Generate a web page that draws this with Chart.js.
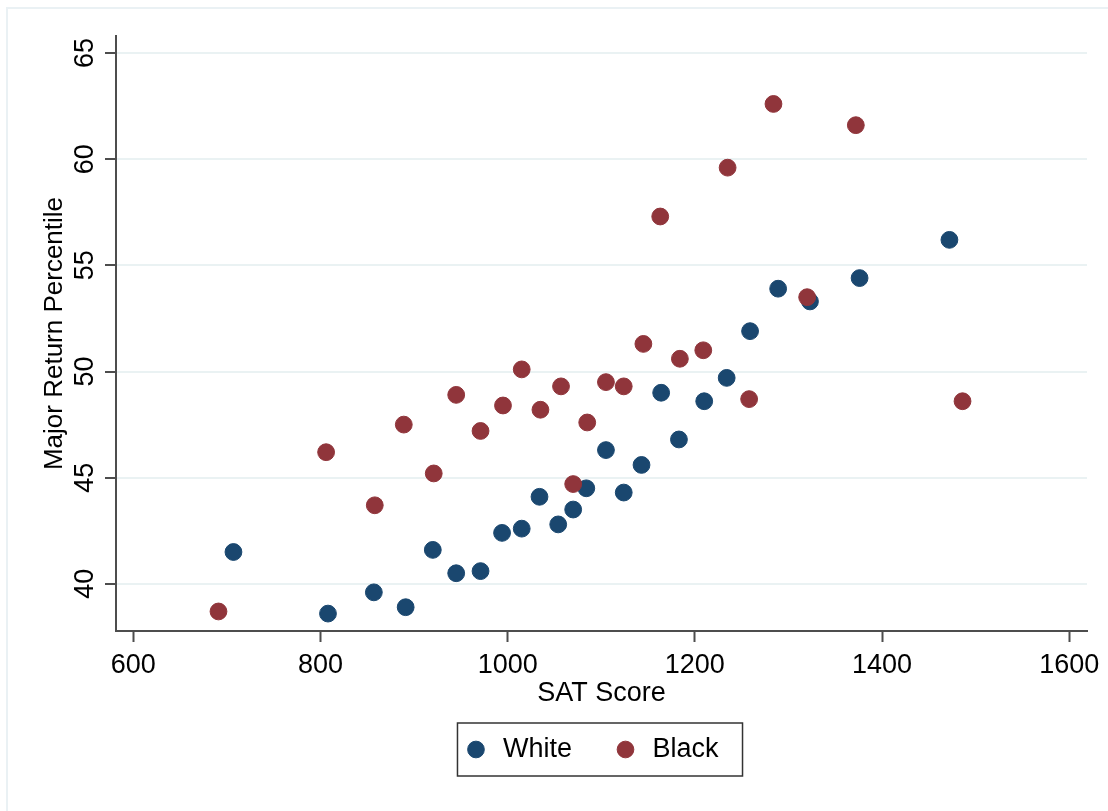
<!DOCTYPE html>
<html>
<head>
<meta charset="utf-8">
<script src="https://cdn.jsdelivr.net/npm/chart.js@4/dist/chart.umd.min.js"></script>
<style>
html,body{margin:0;padding:0;background:#fff;overflow:hidden;}
#frame{position:absolute;left:6px;top:7px;width:1200px;height:900px;border-left:2px solid #eaf1f4;border-top:2px solid #eaf1f4;}
#wrap{position:absolute;left:0;top:0;width:1108px;height:811px;}
</style>
</head>
<body>
<div id="frame"></div>
<div id="wrap"><canvas id="grafico"></canvas></div>
<script>
// SAT score vs major return percentile
const whiteSat = [707, 808, 857, 891, 920, 945, 971, 994, 1015, 1034, 1054, 1070, 1084, 1105, 1124, 1143, 1164, 1183, 1210, 1234, 1259, 1289, 1323, 1376, 1472];
const whitePct = [41.5, 38.6, 39.6, 38.9, 41.6, 40.5, 40.6, 42.4, 42.6, 44.1, 42.8, 43.5, 44.5, 46.3, 44.3, 45.6, 49.0, 46.8, 48.6, 49.7, 51.9, 53.9, 53.3, 54.4, 56.2];

const blackSat = [691, 806, 858, 889, 921, 945, 971, 995, 1015, 1035, 1057, 1070, 1085, 1105, 1124, 1145, 1163, 1184, 1209, 1235, 1258, 1284, 1320, 1372, 1486];
const blackPct = [38.7, 46.2, 43.7, 47.5, 45.2, 48.9, 47.2, 48.4, 50.1, 48.2, 49.3, 44.7, 47.6, 49.5, 49.3, 51.3, 57.3, 50.6, 51.0, 59.6, 48.7, 62.6, 53.5, 61.6, 48.6];

const xTicks = [600, 800, 1000, 1200, 1400, 1600];
const yTicks = [40, 45, 50, 55, 60, 65];

const fonte = {family: "'Liberation Sans', Arial, sans-serif", size: 27};
const escuro = "#4d4d4d";

// caixa em volta da legenda
const caixaLegenda = {
  id: "caixaLegenda",
  afterDraw(chart) {
    const hb = chart.legend && chart.legend.legendHitBoxes;
    if (!hb || !hb.length) return;
    const first = hb[0], last = hb[hb.length - 1];
    const left = first.left - 5;
    const right = last.left + last.width + 24;
    const cy = first.top + first.height / 2;
    const ctx = chart.ctx;
    ctx.save();
    ctx.strokeStyle = "#333";
    ctx.lineWidth = 1.5;
    ctx.strokeRect(left, cy - 26.5, right - left, 53);
    ctx.restore();
  }
};

new Chart(
document.getElementById("grafico"),
{
type: "scatter",
data: {
  datasets: [
    {
      label: "White",
      data: whiteSat.map((x, i) => ({x: x, y: whitePct[i]})),
      backgroundColor: "#1a476f",
      borderColor: "#1a476f",
      pointRadius: 8.4,
      pointHoverRadius: 8.4,
      order: 1
    },
    {
      label: "Black",
      data: blackSat.map((x, i) => ({x: x, y: blackPct[i]})),
      backgroundColor: "#90353b",
      borderColor: "#90353b",
      pointRadius: 8.4,
      pointHoverRadius: 8.4,
      order: 0
    }
  ]
},
options: {
  responsive: true,
  maintainAspectRatio: false,
  animation: false,
  layout: {padding: {left: 94, right: 21, top: 36, bottom: 38}},
  plugins: {
    legend: {
      position: "bottom",
      labels: {
        usePointStyle: true,
        pointStyle: "circle",
        boxWidth: 27,
        boxHeight: 11.8,
        padding: 40,
        color: "#000",
        font: fonte,
        sort: (a, b) => a.datasetIndex - b.datasetIndex
      }
    },
    tooltip: {enabled: false}
  },
  scales: {
    x: {
      type: "linear",
      min: 581.5,
      max: 1619,
      afterBuildTicks: s => { s.ticks = xTicks.map(v => ({value: v})); },
      afterFit: s => { s.height = 65; },
      grid: {drawOnChartArea: false, tickLength: 11, tickColor: escuro, tickWidth: 2},
      border: {color: escuro, width: 2},
      ticks: {color: "#000", font: fonte, padding: 7, callback: v => String(v)},
      title: {display: true, text: "SAT Score", color: "#000", font: fonte, padding: {top: 0, bottom: -14}}
    },
    y: {
      type: "linear",
      min: 37.78,
      max: 65.8,
      afterBuildTicks: s => { s.ticks = yTicks.map(v => ({value: v})); },
      afterFit: s => { s.width = 22; },
      grid: {color: "#eaf2f3", lineWidth: 2, tickLength: 11, tickColor: escuro, tickWidth: 2},
      border: {color: escuro, width: 2},
      // mirror + padding negativo: rótulos ficam à esquerda do eixo sem recorte
      ticks: {color: "#000", font: fonte, minRotation: 90, maxRotation: 90, mirror: true, crossAlign: "center", padding: -45.5, callback: v => String(v)},
      title: {display: true, text: "Major Return Percentile", color: "#000", font: {family: fonte.family, size: 26}, padding: {top: -54.5, bottom: 0}}
    }
  }
},
plugins: [caixaLegenda]
}
);
</script>
</body>
</html>
